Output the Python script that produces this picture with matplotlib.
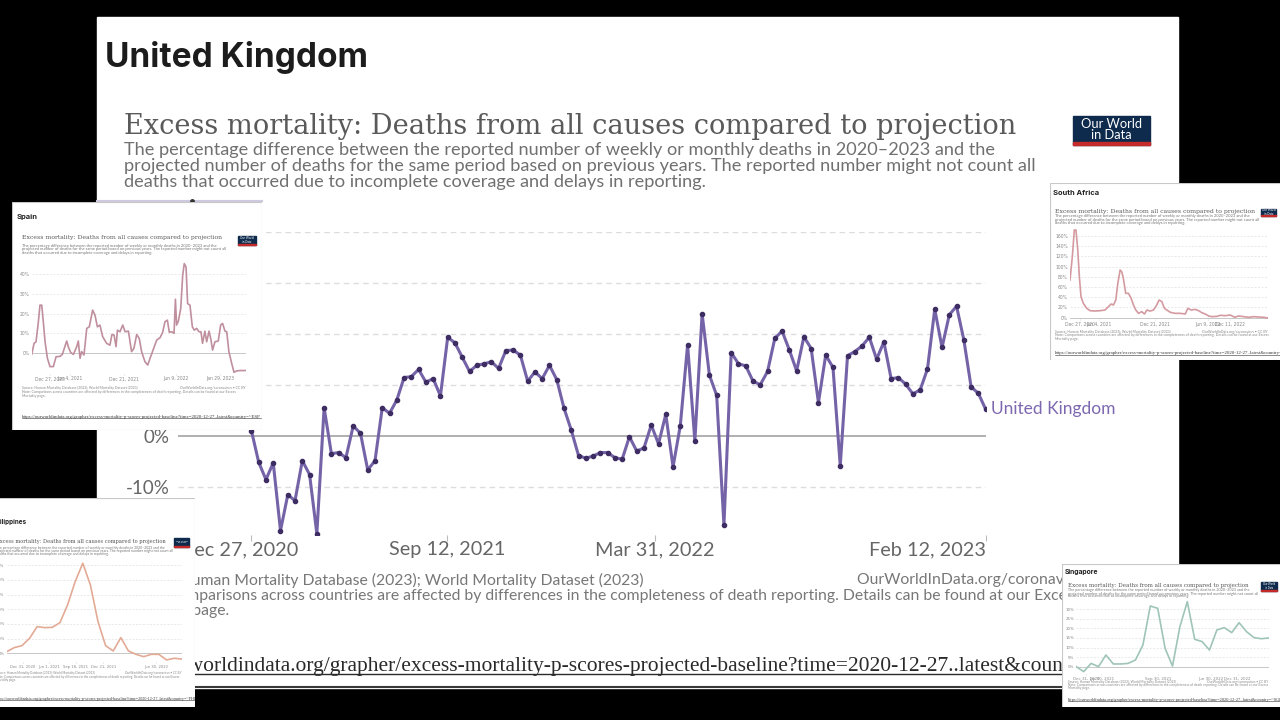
import matplotlib.pyplot as plt
from matplotlib.patches import Rectangle
from matplotlib.transforms import ScaledTranslation

W, H = 1280, 720

# ---- main chart: United Kingdom, weekly excess mortality (%) ----
uk_values = [1.0, -5.2, -8.6, -5.3, -18.6, -11.6, -12.7, -4.9, -7.6, -19.2,
             5.5, -3.5, -3.3, -4.3, 1.9, 0.5, -6.7, -4.9, 5.5, 4.4,
             7.0, 11.4, 11.6, 13.0, 10.5, 11.2, 7.8, 19.3, 18.2, 15.4,
             12.6, 13.8, 14.1, 14.5, 13.2, 16.7, 16.8, 15.8, 10.7, 12.5,
             11.2, 13.8, 11.0, 5.4, 1.1, -3.9, -4.4, -4.0, -3.3, -3.3,
             -4.3, -4.6, -0.2, -3.0, -2.4, 2.1, -1.6, 4.2, -6.1, 2.0,
             17.8, -1.0, 23.9, 11.9, 7.9, -17.5, 16.3, 14.1, 13.7, 10.7,
             10.0, 12.6, 19.1, 20.5, 16.8, 12.7, 19.4, 17.1, 6.5, 15.8,
             13.4, -5.9, 15.7, 16.5, 17.6, 19.3, 15.0, 18.4, 11.2, 11.4,
             10.1, 8.2, 9.0, 13.1, 24.8, 17.3, 23.7, 25.4, 18.8, 9.6,
             8.3, 5.2]
uk_tick_pos = [0, 26.9, 55.5, 101]
uk_tick_labels = ['Dec 27, 2020', 'Sep 12, 2021', 'Mar 31, 2022', 'Feb 12, 2023']
uk_yticks = [-10, 0, 10, 20, 30, 40]

# ---- small screenshots ----
spain_weeks = [0.0, 1.2, 2.2, 3.4, 4.2, 5.1, 5.9, 6.8, 8.0, 9.3,
               11.0, 12.4, 14.4, 15.6, 16.6, 17.8, 18.6, 19.8, 21.2, 22.9,
               23.7, 24.6, 25.4, 26.6, 28.0, 29.3, 31.0, 32.2, 33.4, 34.7,
               36.1, 38.1, 39.8, 40.8, 41.9, 42.9, 43.6, 44.9, 46.3, 47.5,
               49.2, 50.8, 52.0, 53.4, 54.7, 55.9, 57.6, 59.0, 60.2, 61.9,
               63.6, 65.3, 66.6, 67.8, 69.0, 70.0, 71.2, 72.4, 73.1, 73.7,
               74.6, 75.8, 76.8, 77.6, 78.5, 79.3, 80.5, 81.7, 82.7, 83.9,
               85.1, 86.1, 86.9, 88.1, 89.0, 90.2, 91.2, 92.0, 93.2, 94.9,
               96.1, 97.1, 98.3, 99.2, 100.3, 101.7, 102.9, 104.2, 105.9, 107.6, 109.0]
spain_values = [-0.7, 4.9, 5.7, 15.9, 24.3, 24.3, 15.9, 5.7, -2.7, -6.9,
                -6.9, -1.9, -1.7, -0.7, 2.4, 6.1, 3.2, 0.3, -0.7, 3.2,
                6.1, -2.7, 0.7, -1.0, 12.5, 13.3, 21.8, 19.2, 13.3, 14.2,
                8.3, 4.9, 4.0, 9.4, 9.1, 3.2, 11.6, 10.8, 14.2, 10.8,
                11.1, 0.7, 2.4, 9.4, 7.4, 0.7, -4.4, -6.1, -2.7, 2.0,
                6.6, 7.8, 10.5, 15.9, 16.7, 10.5, 10.8, 10.0, 27.3, 14.2,
                16.2, 22.6, 39.5, 45.4, 43.7, 25.1, 24.3, 13.3, 11.6, 12.5,
                10.8, 10.8, 4.9, 11.1, 5.7, 11.1, 6.6, 1.5, 5.7, 6.1,
                14.2, 15.0, 11.1, 10.8, 0.7, -5.2, -9.8, -9.1, -8.9, -8.9, -8.9]
spain_ticks = [9.3, 19.5, 46.9, 73.2, 95.8]
spain_tick_labels = ['Dec 27, 2020', 'Jun 4, 2021', 'Dec 21, 2021', 'Jun 9, 2022', 'Jan 29, 2023']
spain_yticks = [0, 10, 20, 30, 40]

sa_weeks = [0, 1.3, 2.4, 3.3, 4.3, 5.2, 6.1, 7.4, 9.3, 11.1,
            13.9, 16.7, 19.4, 21.3, 22.8, 24.1, 25.4, 26.5, 27.8, 28.7,
            29.6, 30.9, 32.4, 33.9, 35.2, 36.5, 38.0, 39.8, 41.3, 42.6,
            44.4, 46.3, 48.1, 49.4, 50.9, 52.4, 53.7, 55.6, 58.3, 61.1,
            63.9, 65.4, 67.2, 69.4, 71.3, 73.1, 75.0, 76.9, 78.7, 81.5,
            83.3, 86.1, 88.9, 91.3, 93.5, 96.3, 99.1, 101.9, 104.6, 107.4, 109.8]
sa_values = [73.9, 120, 172, 172, 133, 80, 41, 28, 18.3, 13.7,
             13, 13.7, 15, 21.6, 26.8, 24.8, 34.6, 67, 93.5, 90,
             77, 47.7, 47.7, 38, 24.8, 15, 8.5, 11.8, 7.2, 15,
             13, 15, 24.8, 34.6, 31.4, 18.3, 15, 10.5, 8.5, 8.5,
             7.2, 18.3, 15, 16.3, 13.7, 9.8, 7.2, 3.3, 2.0, 2.6,
             4.6, 3.9, 5.2, 0.7, 3.3, 2.0, 0.7, 2.0, 1.3, 0.7, -0.6]
sa_ticks = [5.6, 16.1, 46.9, 76.5, 88.9]
sa_tick_labels = ['Dec 27, 2020', 'Jun 4, 2021', 'Dec 21, 2021', 'Jun 9, 2022', 'Dec 11, 2022']
sa_yticks = [0, 20, 40, 60, 80, 100, 120, 140, 160]

ph_values = [1.1, 3.9, 5.2, 10.2, 18.2, 17.5, 17.7, 20.9, 33.0, 48.9,
             61.4, 46.6, 21.6, 5.2, 1.6, 10.7, 1.6, -0.7, -2.3, -0.7,
             -0.7, -4.5, -3.4, -3.9]
ph_ticks = [2.1, 5.6, 9.1, 12.7, 19.6]
ph_tick_labels = ['Dec 31, 2020', 'Jun 1, 2021', 'Sep 18, 2021', 'Dec 21, 2021', 'Jun 30, 2022']
ph_yticks = [0, 10, 20, 30, 40, 50, 60]

sg_values = [0.0, -2.6, 1.7, 0.0, 6.1, 1.4, 1.4, 1.7, 3.5, 11.3,
             31.7, 30.5, 9.6, 0.3, 20.9, 34.0, 14.3, 13.1, 8.7, 19.2,
             20.4, 17.8, 23.0, 18.3, 15.2, 14.6, 15.0]
sg_ticks = [1.35, 3.4, 11.0, 18.2, 21.8]
sg_tick_labels = ['Dec 31, 2020', 'Jun 30, 2021', 'Sep 30, 2021', 'Jun 30, 2022', 'Dec 31, 2022']
sg_yticks = [0, 5, 10, 15, 20, 25, 30]

TITLE = 'Excess mortality: Deaths from all causes compared to projection'
SUB = ['The percentage difference between the reported number of weekly or monthly deaths in 2020\u20132023 and the',
       'projected number of deaths for the same period based on previous years. The reported number might not count all',
       'deaths that occurred due to incomplete coverage and delays in reporting.']
SOURCE = 'Source: Human Mortality Database (2023); World Mortality Dataset (2023)'
NOTE = ['Note: Comparisons across countries are affected by differences in the completeness of death reporting. Details can be found at our Excess',
        'Mortality page.']
OWID = 'OurWorldInData.org/coronavirus \u2022 CC BY'
URL = 'https://ourworldindata.org/grapher/excess-mortality-p-scores-projected-baseline?time=2020-12-27..latest&country=~'

SANS = ['Lato', 'DejaVu Sans']
BOLD = ['Inter', 'DejaVu Sans']
FS_NAME, FS_TITLE, FS_SUB, FS_TICK, FS_SRC, FS_URL, FS_LOGO = 24, 19.6, 13.1, 14.3, 11.3, 15.5, 9.3

fig = plt.figure(figsize=(12.8, 7.2), dpi=100, facecolor='black')
underlines = []


def box(x0, y0, x1, y1):
    return [x0 / W, 1 - y1 / H, (x1 - x0) / W, (y1 - y0) / H]


def frame(x0, y0, x1, y1, z):
    a = fig.add_axes(box(x0, y0, x1, y1), zorder=z)
    a.set_xlim(x0, x1)
    a.set_ylim(y1, y0)
    a.axis('off')
    return a


def logo(a, x0, y0, x1, y1, fs):
    a.add_patch(Rectangle((x0, y0), x1 - x0, y1 - y0, color='#0e2a4c'))
    a.add_patch(Rectangle((x0, y1 - (y1 - y0) * 0.1), x1 - x0, (y1 - y0) * 0.1, color='#c52a2a'))
    a.text((x0 + x1) / 2, (y0 + y1) / 2 - (y1 - y0) * 0.04, 'Our World\nin Data', color='white',
           fontsize=fs, family=SANS, ha='center', va='center', linespacing=0.95)


# ---- background and main panel ----
bg = frame(0, 0, W, H, 0)
bg.add_patch(Rectangle((97, 17), 1081, 671, color='white'))
bg.plot([97, 1178], [687, 687], color='#3a3a3a', lw=1.5)
bg.plot([97, 262], [201, 201], color='#cfc9e0', lw=1.5)
bg.plot([192], [201], 'o', ms=2.5, color='#333333')

bg.text(105, 58, 'United Kingdom', fontsize=FS_NAME, fontweight='bold', family=BOLD,
        color='#1c1c1c', va='center')
bg.text(124, 127, TITLE, fontsize=FS_TITLE, family='DejaVu Serif', color='#5a5a5a', va='center')
for yy, line in zip([150, 166, 182], SUB):
    bg.text(124, yy, line, fontsize=FS_SUB, family=SANS, color='#707070', va='center')
logo(bg, 1073, 116, 1150, 145, FS_LOGO)

bg.text(124, 580, SOURCE, fontsize=FS_SRC, family=SANS, color='#777777', va='center')
bg.text(857, 580, OWID, fontsize=FS_SRC, family=SANS, color='#777777', va='center')
for yy, line in zip([596, 611], NOTE):
    bg.text(124, yy, line, fontsize=FS_SRC, family=SANS, color='#777777', va='center')
t = bg.text(100, 667, URL + 'GBR', fontsize=FS_URL, family='Liberation Serif', color='#2a2a2a',
            va='center', clip_on=True)
underlines.append((bg, t, '#2a2a2a', 1.0))

# ---- main chart axes ----
ax = fig.add_axes(box(178, 231.7, 986, 535.2), zorder=1)
ax.patch.set_alpha(0)
ax.set_xlim(-10.1, 101.05)
ax.set_ylim(-19.5, 40)
for yv in uk_yticks:
    if yv == 0:
        ax.axhline(yv, color='#9a9a9a', lw=1.1, zorder=1)
    else:
        ax.axhline(yv, color='#dddddd', lw=1, ls=(0, (4, 3)), zorder=0)
ax.plot(range(len(uk_values)), uk_values, color='#7563a8', lw=2.2, marker='o', ms=3,
        mfc='#3e2d63', mec='#3e2d63', zorder=3)
ax.annotate('United Kingdom', xy=(len(uk_values) - 1, uk_values[-1]), xytext=(4, 0),
            textcoords='offset points', va='center', fontsize=12.5, family=SANS,
            color='#7d68b0', annotation_clip=False)
for s in ax.spines.values():
    s.set_visible(False)
ax.set_yticks(uk_yticks)
ax.set_yticklabels(['%d%%' % v for v in uk_yticks])
ax.set_xticks(uk_tick_pos)
ax.set_xticklabels(uk_tick_labels)
ax.tick_params(axis='y', length=0, pad=6, labelsize=13.5, labelcolor='#666666')
ax.tick_params(axis='x', length=4, color='#bbbbbb', pad=0.5, labelsize=FS_TICK, labelcolor='#666666')
for lab in ax.get_xticklabels() + ax.get_yticklabels():
    lab.set_family(SANS)
xl = ax.get_xticklabels()
xl[0].set_transform(xl[0].get_transform() + ScaledTranslation(-0.13, 0, fig.dpi_scale_trans))
xl[-1].set_horizontalalignment('right')


# ---- inset screenshots ----
def inset(bx, z, s, name, name_xy, tx, title_y, logo_px, sub_y, src_y, url_y, plot_px,
          xs, ys, ylim, yticks, ticks, tick_labels, color, code):
    x0, y0, x1, y1 = bx
    p = frame(x0, y0, x1, y1, z)
    p.add_patch(Rectangle((x0, y0), x1 - x0, y1 - y0, facecolor='white', edgecolor='#c8c8c8', lw=0.8))
    kw = dict(va='center', clip_on=True)
    p.text(name_xy[0], name_xy[1], name, fontsize=FS_NAME * s, fontweight='bold', family=BOLD,
           color='#222222', **kw)
    p.text(tx, title_y, TITLE, fontsize=FS_TITLE * s, family='DejaVu Serif', color='#555555', **kw)
    for yy, line in zip(sub_y, SUB):
        p.text(tx, yy, line, fontsize=FS_SUB * s, family=SANS, color='#777777', **kw)
    logo(p, *logo_px, fs=FS_LOGO * s)
    px0, py0, px1, py1 = plot_px
    p.text(tx, src_y[0], SOURCE, fontsize=FS_SRC * s, family=SANS, color='#888888', **kw)
    p.text(px1, src_y[0], OWID, fontsize=FS_SRC * s, family=SANS, color='#888888', ha='right', **kw)
    for yy, line in zip(src_y[1:], NOTE):
        p.text(tx, yy, line, fontsize=FS_SRC * s, family=SANS, color='#888888', **kw)
    ut = p.text(tx, url_y, URL + code, fontsize=FS_URL * s, family='Liberation Serif', color='#333333', **kw)
    underlines.append((p, ut, '#333333', 0.4))

    c = fig.add_axes(box(px0, py0, px1, py1), zorder=z + 1)
    c.patch.set_alpha(0)
    c.set_xlim(xs[0], xs[-1])
    c.set_ylim(*ylim)
    for yv in yticks:
        if yv == 0:
            c.axhline(yv, color='#b0b0b0', lw=0.5)
        else:
            c.axhline(yv, color='#e2e2e2', lw=0.5, ls=(0, (3, 2)))
    c.plot(xs, ys, color=color, lw=1.2)
    for sp in c.spines.values():
        sp.set_visible(False)
    c.set_yticks(yticks)
    c.set_yticklabels(['%d%%' % v for v in yticks])
    c.set_xticks(ticks)
    c.set_xticklabels(tick_labels)
    c.tick_params(axis='y', length=0, pad=1.5, labelsize=FS_TICK * s, labelcolor='#888888')
    c.tick_params(axis='x', length=1, width=0.4, color='#bbbbbb', pad=1, labelsize=FS_TICK * s,
                  labelcolor='#888888')


inset((12, 202, 262, 430), 5, 0.227, 'Spain', (17, 217), 22, 238, (238, 236, 256, 245),
      [246, 249.3, 252.7], [387.7, 392.3, 396.3], 416.7, (31.7, 262.4, 246, 373.7),
      spain_weeks, spain_values, (-10.5, 46), spain_yticks, spain_ticks, spain_tick_labels,
      '#c08f9e', 'ESP')

inset((1050, 183, 1282, 360), 7, 0.227, 'South Africa', (1053, 193), 1055, 211, (1261, 209, 1276, 216),
      [216, 219.5, 223], [331.7, 335.3, 338.7], 353.3, (1070, 225.9, 1268, 319.2),
      sa_weeks, sa_values, (-3, 180), sa_yticks, sa_ticks, sa_tick_labels,
      '#d49aa0', 'ZAF')

inset((-12, 498, 195, 707), 9, 0.19, 'Philippines', (-7, 521.7), -4, 541.7, (174, 538, 189, 547),
      [547.7, 551, 554.3], [673, 677, 680.5], 699, (6.7, 560.9, 181.7, 662.1),
      list(range(len(ph_values))), ph_values, (-6, 63), ph_yticks, ph_ticks, ph_tick_labels,
      '#e3aa95', 'PHL')

inset((1062, 564, 1282, 707), 11, 0.204, 'Singapore', (1065, 572), 1068, 585.7, (1261, 582, 1277, 591),
      [590.5, 593.5, 596.5], [681.7, 685, 688.3], 700, (1076.3, 597.8, 1268.7, 674.3),
      list(range(len(sg_values))), sg_values, (-4, 36), sg_yticks, sg_ticks, sg_tick_labels,
      '#9fc4b8', 'SGP')

# underline the link texts
fig.canvas.draw()
for a, tt, col, lw in underlines:
    bb = tt.get_window_extent()
    inv = a.transData.inverted()
    xa, ya = inv.transform((bb.x0, bb.y0 + bb.height * 0.15))
    xb, _ = inv.transform((bb.x1, bb.y0))
    a.plot([xa, xb], [ya, ya], color=col, lw=lw, clip_on=True)

fig.savefig('out.png', dpi=100, facecolor='black')
